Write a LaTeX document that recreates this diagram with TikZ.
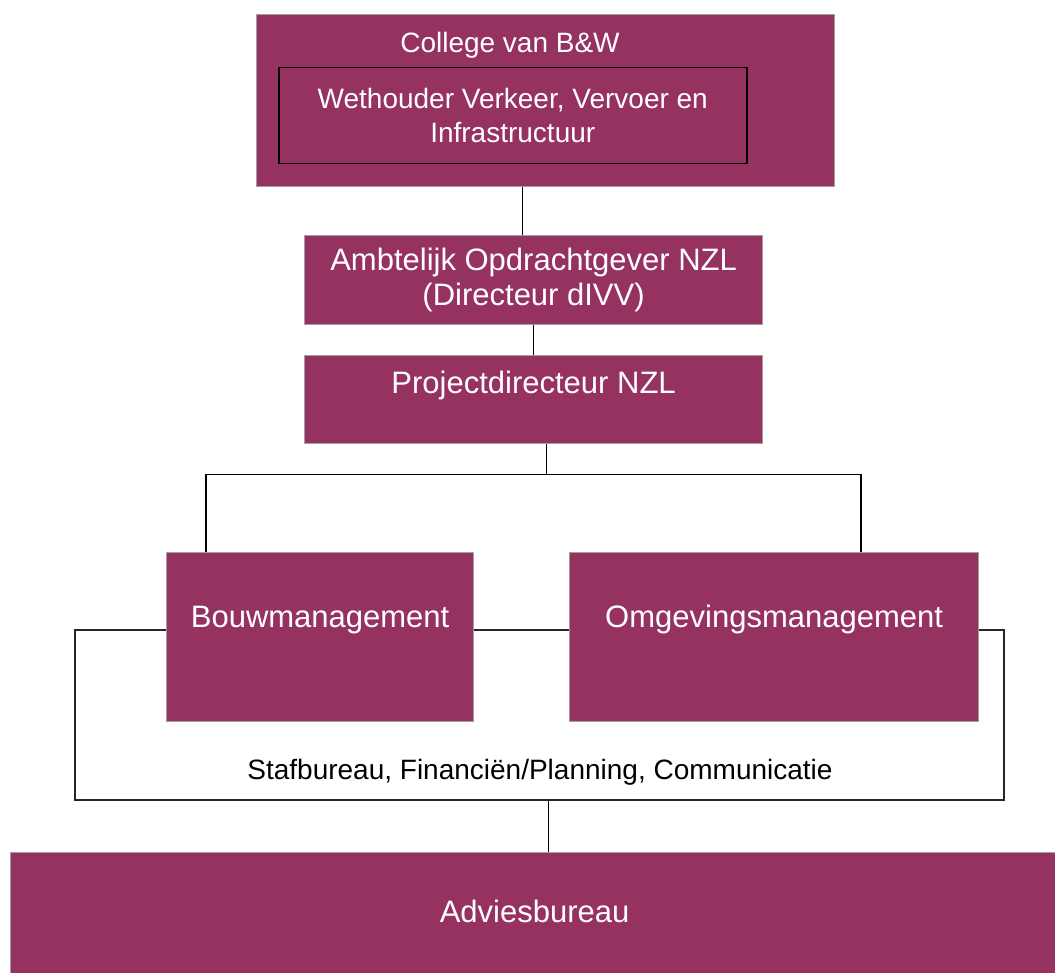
\documentclass[tikz,border=0pt]{standalone}
\usepackage{fontspec}
\setmainfont{Liberation Sans}
\usetikzlibrary{positioning, calc}
\definecolor{NZLPurple}{RGB}{150, 50, 96}
\definecolor{NZLEdge}{RGB}{160, 160, 160}

\begin{document}
\begin{tikzpicture}[
    x=1pt, y=-1pt,
    every node/.style={font=\fontsize{31}{35}\selectfont, align=center},
    orgbox/.style={rectangle, draw=NZLEdge, fill=NZLPurple, text=white, line width=1.2pt, inner sep=0pt},
    innerbox/.style={rectangle, draw=black, fill=NZLPurple, text=white, line width=1.5pt, inner sep=0pt, font=\fontsize{28}{34}\selectfont},
    stafframe/.style={rectangle, draw=black!85, line width=1.5pt, inner sep=0pt},
    link/.style={draw=black, line width=1.4pt}
  ]
    \useasboundingbox (0,0) rectangle (1055,973);

    % Bestuur
    \node[orgbox, minimum width=578pt, minimum height=172pt, anchor=north west] (college) at (256,14) {};
    \node[text=white, font=\fontsize{28}{34}\selectfont] (bw) at (510,45) {College van B\&W};
    \node[innerbox, minimum width=468pt, minimum height=96pt, anchor=north west] (wethouder) at (278,67) {Wethouder Verkeer, Vervoer en\\Infrastructuur};

    % Ambtelijk
    \node[orgbox, minimum width=458pt, minimum height=89pt, anchor=north west] (ambt) at (304,235) {Ambtelijk Opdrachtgever NZL\\(Directeur dIVV)};
    \node[orgbox, minimum width=458pt, text height=38pt, text depth=50pt, anchor=north west] (pd) at (304,355) {Projectdirecteur NZL};

    % Staf
    \node[stafframe, minimum width=929pt, minimum height=170pt, anchor=north west] (staf) at (74,629) {};
    \node[font=\fontsize{28}{32}\selectfont] (staftekst) at (540,772) {Stafbureau, Financiën/Planning, Communicatie};

    % Management
    \node[orgbox, minimum width=307pt, text height=75pt, text depth=94pt, anchor=north west] (bouw) at (166,552) {Bouwmanagement};
    \node[orgbox, minimum width=409pt, text height=75pt, text depth=94pt, anchor=north west] (omg) at (569,552) {Omgevingsmanagement};

    % Adviesbureau
    \node[orgbox, minimum width=1048pt, text height=70pt, text depth=58pt, anchor=north west] (advies) at (10,852) {Adviesbureau};

    % Lijnen
    \draw[link] ([xshift=-11pt]ambt.north) -- ([xshift=-11pt]ambt.north |- college.south);
    \draw[link] (ambt.south) -- (pd.north);
    \draw[link] ([xshift=13pt]pd.south) -- ++(0,30) coordinate (split);
    \draw[link] (split) -| ([xshift=-114pt]bouw.north);
    \draw[link] (split) -| ([xshift=87pt]omg.north);
    \draw[link] ([xshift=9pt]staf.south) -- ([xshift=9pt]staf.south |- advies.north);
  \end{tikzpicture}
\end{document}
